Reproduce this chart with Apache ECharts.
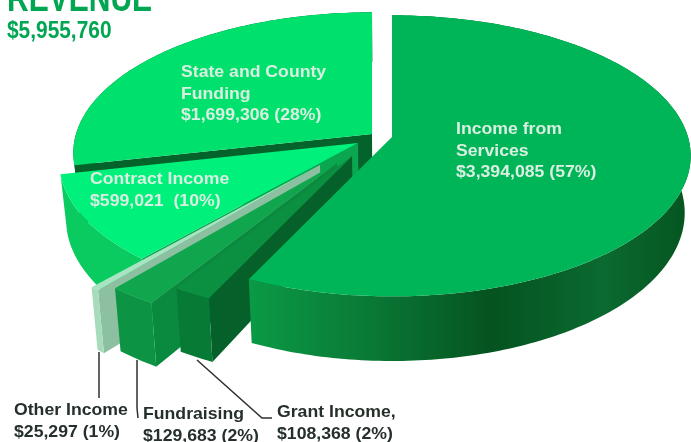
<!DOCTYPE html>
<html><head><meta charset="utf-8">
<style>html,body{margin:0;padding:0;background:#fff}#c{width:691px;height:442px;filter:blur(0.45px)}</style>
<script src="https://cdn.jsdelivr.net/npm/echarts@6/dist/echarts.min.js"></script>
</head><body><div id="c"></div>
<script>
// ---- data (clockwise from 12 o'clock)
const sliceNames = ['Income from\nServices','Grant Income,','Fundraising','Other Income','Contract Income','State and County\nFunding'];
const sliceValues = [3394085,108368,129683,25297,599021,1699306];
const printedAmounts = ['$3,394,085','$108,368','$129,683','$25,297','$599,021 ','$1,699,306'];
const printedPercents = [57,2,2,1,10,28];
const titleText = 'REVENUE';
const totalText = '$5,955,760';

// ---- presentation
const centre = {x:392,y:137}, rx = 296, ry = 138, persp = 0.134, depth = 56, converge = 0.98;
const explode = [[0,0],[-40,19],[-55,26],[-72,28],[-34,6],[-20,-3]];
const radiusScale = [1,1,1.05,1.05,1,1];
const drawOrder = [5,4,3,2,1,0];
const topColor  = ['#00b557','#0b8f41','#0fa64e','#a8e4c2','#00f07c','#00e06c'];
const cutColor  = ['#056b2e','#05602a','#0a8a3e','#8cc0a0','#0aa650','#04632a'];
const rimColor  = ['#0a7c38','#077a36','#0c9444','#a6dcbc','#0acb60','#04632a'];
const labelColor = '#d9efe1', noteColor = '#26302a', brand = '#00a651';

const total = sliceValues.reduce((a,b)=>a+b,0);
const startDeg = []; let acc = 0;
sliceValues.forEach(v=>{startDeg.push(acc); acc += v/total*360;});
startDeg.push(360);

function project(i, radius, deg, low){
  const a = deg*Math.PI/180, r = radius*radiusScale[i], X = r*Math.sin(a), Y = -r*Math.cos(a);
  const s = 1/(1-persp*Y);
  let sx = centre.x+explode[i][0]+rx*X*s;
  if(low) sx = centre.x+(sx-centre.x)*converge;
  return [sx, centre.y+explode[i][1]+(ry*Y+(low?depth:0))*s];
}
function arc(i,d0,d1,low){
  const pts=[], n=Math.max(2,Math.ceil(d1-d0));
  for(let k=0;k<=n;k++) pts.push(project(i,1,d0+(d1-d0)*k/n,low));
  return pts;
}
function renderSlice(params, api){
  const i = api.value(0), d0 = startDeg[i], d1 = startDeg[i+1];
  const apex = project(i,0,0,false), apexLow = project(i,0,0,true);
  const children = [];
  // cut face on the viewer's side
  children.push({type:'polygon',shape:{points:[apex,project(i,1,d0,false),project(i,1,d0,true),apexLow]},style:{fill:cutColor[i]}});
  // outer wall
  let rimFill = rimColor[i];
  if(i===0){
    rimFill = new echarts.graphic.LinearGradient(0,0,1,0,[
      {offset:0,color:'#0a9a45'},{offset:.25,color:'#0a7c38'},{offset:.55,color:'#05531f'},
      {offset:.8,color:'#0a6a30'},{offset:1,color:'#05551f'}]);
  }
  const top = arc(i,d0,d1,false), low = arc(i,d0,d1,true);
  children.push({type:'polygon',shape:{points:top.concat(low.slice().reverse())},style:{fill:rimFill}});
  // top face
  children.push({type:'polygon',shape:{points:[apex].concat(top)},style:{fill:topColor[i]}});
  return {type:'group',children};
}

function label(text,x,y,size,color,sx,lh){
  return {type:'text',x,y,scaleX:sx,z:100,style:{text,fill:color,font:'bold '+size+'px "Liberation Sans"',lineHeight:lh,textVerticalAlign:'top'}};
}
const inside = i => sliceNames[i]+'\n'+printedAmounts[i]+' ('+printedPercents[i]+'%)';
const outside = i => sliceNames[i]+'\n'+printedAmounts[i].trim()+' ('+printedPercents[i]+'%)';
const line = pts => ({type:'polyline',z:1,shape:{points:pts},style:{stroke:'#2c312e',lineWidth:1.5,fill:null}});

const chart = echarts.init(document.getElementById('c'),null,{renderer:'canvas'});
chart.setOption({
  animation:false,
  series:[{type:'custom',coordinateSystem:'none',renderItem:renderSlice,
    data:drawOrder.map(i=>[i,sliceValues[i]])}],
  graphic:{elements:[
    line([[99,352],[99,398]]),
    line([[137,360],[137,408],[138,418]]),
    line([[197,360],[262,418],[272,418]]),
    label(titleText,7,-18,38,brand,.79,38),
    label(totalText,7,19,24,brand,.87,24),
    label(inside(0),456,119,16.5,labelColor,1.07,21.5),
    label(inside(5),181,62,16.5,labelColor,1.07,21.5),
    label(inside(4),90,169,16.5,labelColor,1.07,21.5),
    label(outside(3),14,400,16.5,noteColor,1.07,21.5),
    label(outside(2),143,404,16.5,noteColor,1.07,21.5),
    label(outside(1),277,402,16.5,noteColor,1.07,21.5)
  ]}
});
</script></body></html>
